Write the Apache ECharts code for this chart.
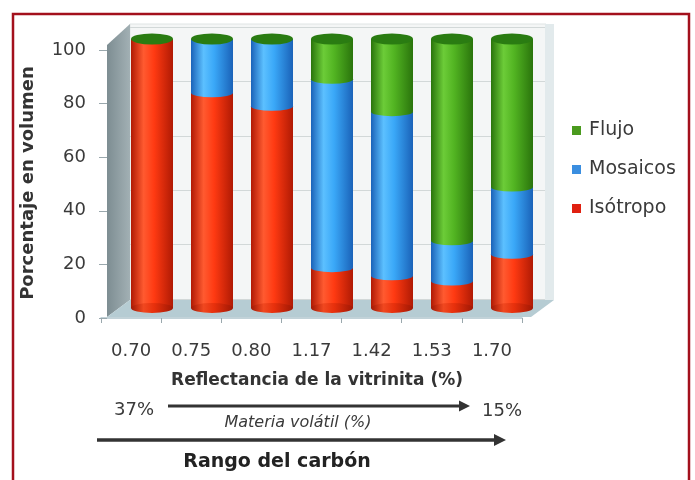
<!DOCTYPE html>
<html><head><meta charset="utf-8">
<script src="https://cdn.jsdelivr.net/npm/echarts@6/dist/echarts.min.js"></script>
<style>html,body{margin:0;padding:0;background:#fff}#c{width:695px;height:480px}</style>
</head><body><div id="c"></div>
<script>
const categories = ['0.70','0.75','0.80','1.17','1.42','1.53','1.70'];
const isotropo = [100, 80, 75, 15, 12, 10, 20];
const mosaicos = [0, 20, 25, 70, 61, 15, 25];
const flujo    = [0, 0, 0, 15, 27, 75, 55];
const yTicks = [0, 20, 40, 60, 80, 100];
const totals = categories.map((c, i) => isotropo[i] + mosaicos[i] + flujo[i]);
const edgeIsoMos = categories.map((c, i) => mosaicos[i] > 0 ? isotropo[i] : '-');
const edgeMosFlu = categories.map((c, i) => flujo[i] > 0 ? isotropo[i] + mosaicos[i] : '-');

const FONT = '"DejaVu Sans", Verdana, sans-serif';
const TXT = '#3a3a3a';
function cyl(dark, mid, light) {
  return new echarts.graphic.LinearGradient(0, 0, 1, 0, [
    {offset: 0, color: dark}, {offset: 0.3, color: light},
    {offset: 0.55, color: mid}, {offset: 1, color: dark}]);
}
const RED = () => cyl('#b01a04', '#ff3a12', '#ff5a30');
const BLUE = () => cyl('#1a62b8', '#3aa8f8', '#5cc0ff');
const GREEN = () => cyl('#2a740c', '#52b422', '#6ccc38');
const chart = echarts.init(document.getElementById('c'), null, {renderer: 'canvas'});
const yMin = yTicks[0], yMax = yTicks[yTicks.length - 1], yInt = yTicks[1] - yTicks[0];

function ellipse(data, color, z) {
  return {type: 'pictorialBar', xAxisIndex: 1, yAxisIndex: 1, data: data, z: z,
          symbol: 'circle', symbolSize: [42, 9], symbolPosition: 'end',
          symbolOffset: [0, '-50%'], barGap: '-100%', silent: true,
          itemStyle: {color: color}};
}

chart.setOption({
  animation: false,
  backgroundColor: '#fff',
  textStyle: {fontFamily: FONT},
  legend: {
    orient: 'vertical', left: 567, top: 116, itemGap: 20,
    itemWidth: 9, itemHeight: 9, icon: 'rect',
    textStyle: {fontSize: 19, color: TXT, fontFamily: FONT, padding: [0, 0, 0, 3]},
    data: [
      {name: 'Flujo', itemStyle: {color: '#4a9a1e'}},
      {name: 'Mosaicos', itemStyle: {color: '#3a8ee0'}},
      {name: 'Isótropo', itemStyle: {color: '#e02010'}}
    ]
  },
  grid: [
    {left: 130, right: 150, top: 27, bottom: 181},
    {left: 122, right: 153, top: 39, bottom: 172},
    {left: 101, right: 173, top: 50, bottom: 162}
  ],
  xAxis: [
    {gridIndex: 0, type: 'category', data: categories, show: false},
    {gridIndex: 1, type: 'category', data: categories, show: false},
    {gridIndex: 2, type: 'category', data: categories,
     axisLine: {show: true, lineStyle: {color: '#aec4cc', width: 1.5}},
     axisTick: {show: true, length: 5, lineStyle: {color: '#9aa8ad'}},
     axisLabel: {margin: 24, fontSize: 18, color: TXT, fontFamily: FONT}}
  ],
  yAxis: [
    {gridIndex: 0, type: 'value', min: yMin, max: yMax, interval: yInt,
     axisLine: {show: false}, axisTick: {show: false}, axisLabel: {show: false},
     splitLine: {show: true, lineStyle: {color: '#d2d8d8'}}},
    {gridIndex: 1, type: 'value', min: yMin, max: yMax, interval: yInt, show: false,
     splitLine: {show: false}},
    {gridIndex: 2, type: 'value', min: yMin, max: yMax, interval: yInt, offset: -6,
     axisLine: {show: false}, splitLine: {show: false},
     axisTick: {show: true, length: 8, lineStyle: {color: '#9aa8ad'}},
     axisLabel: {margin: 21, fontSize: 18, color: TXT, fontFamily: FONT}}
  ],
  series: [
    {name: 'Isótropo', type: 'bar', stack: 'total', xAxisIndex: 1, yAxisIndex: 1,
     barWidth: 42, data: isotropo, z: 3, itemStyle: {color: RED()}},
    {name: 'Mosaicos', type: 'bar', stack: 'total', xAxisIndex: 1, yAxisIndex: 1,
     barWidth: 42, data: mosaicos, z: 3, itemStyle: {color: BLUE()}},
    {name: 'Flujo', type: 'bar', stack: 'total', xAxisIndex: 1, yAxisIndex: 1,
     barWidth: 42, data: flujo, z: 3, itemStyle: {color: GREEN()}},
    ellipse(edgeIsoMos, BLUE(), 4),
    ellipse(edgeMosFlu, GREEN(), 4),
    {type: 'pictorialBar', xAxisIndex: 1, yAxisIndex: 1, data: totals, z: 4,
     symbol: 'circle', symbolSize: [42, 10], symbolPosition: 'start',
     symbolOffset: [0, '50%'], barGap: '-100%', silent: true,
     itemStyle: {color: cyl('#a01804', '#e8300c', '#f04820')}},
    {type: 'pictorialBar', xAxisIndex: 1, yAxisIndex: 1, data: totals, z: 5,
     symbol: 'circle', symbolSize: [42, 11], symbolPosition: 'end',
     symbolOffset: [0, '-50%'], barGap: '-100%', silent: true,
     itemStyle: {color: '#2a7c12'}}
  ],
  graphic: [
    {type: 'rect', z: -10, shape: {x: 130, y: 24, width: 416, height: 276},
     style: {fill: '#f4f6f6', stroke: '#dfe4e4', lineWidth: 1}},
    {type: 'rect', z: -9, shape: {x: 545, y: 24, width: 9, height: 276},
     style: {fill: '#e2eaec'}},
    {type: 'polygon', z: -8, shape: {points: [[107,45],[130,24],[130,300],[107,317]]},
     style: {fill: new echarts.graphic.LinearGradient(0,0,1,0,[{offset:0,color:'#7d8d92'},{offset:1,color:'#a2b0b4'}])}},
    {type: 'polygon', z: -8, shape: {points: [[107,317],[130,300],[554,300],[531,317]]},
     style: {fill: '#b6ccd3'}},
    {type: 'rect', z: 100, shape: {x: 13, y: 14, width: 676, height: 480},
     style: {fill: 'none', stroke: '#a3101c', lineWidth: 2.5}},
    {type: 'text', rotation: Math.PI / 2, x: 28, y: 183,
     style: {text: 'Porcentaje en volumen', font: 'bold 18px ' + FONT, fill: '#333',
             align: 'center', verticalAlign: 'middle'}},
    {type: 'text', x: 317, y: 381,
     style: {text: 'Reflectancia de la vitrinita (%)', font: 'bold 17px ' + FONT, fill: '#333',
             align: 'center', verticalAlign: 'middle'}},
    {type: 'text', x: 134, y: 410,
     style: {text: '37%', font: '18px ' + FONT, fill: TXT, align: 'center', verticalAlign: 'middle'}},
    {type: 'text', x: 502, y: 411,
     style: {text: '15%', font: '18px ' + FONT, fill: TXT, align: 'center', verticalAlign: 'middle'}},
    {type: 'text', x: 298, y: 423,
     style: {text: 'Materia volátil (%)', font: 'italic 16px ' + FONT, fill: TXT,
             align: 'center', verticalAlign: 'middle'}},
    {type: 'text', x: 277, y: 462,
     style: {text: 'Rango del carbón', font: 'bold 19px ' + FONT, fill: '#222',
             align: 'center', verticalAlign: 'middle'}},
    {type: 'line', shape: {x1: 168, y1: 406, x2: 462, y2: 406},
     style: {stroke: '#333', lineWidth: 3}},
    {type: 'polygon', shape: {points: [[459,400.5],[470,406],[459,411.5]]}, style: {fill: '#333'}},
    {type: 'line', shape: {x1: 97, y1: 440, x2: 497, y2: 440},
     style: {stroke: '#333', lineWidth: 3.5}},
    {type: 'polygon', shape: {points: [[494,434],[506,440],[494,446]]}, style: {fill: '#333'}}
  ]
});
</script></body></html>
